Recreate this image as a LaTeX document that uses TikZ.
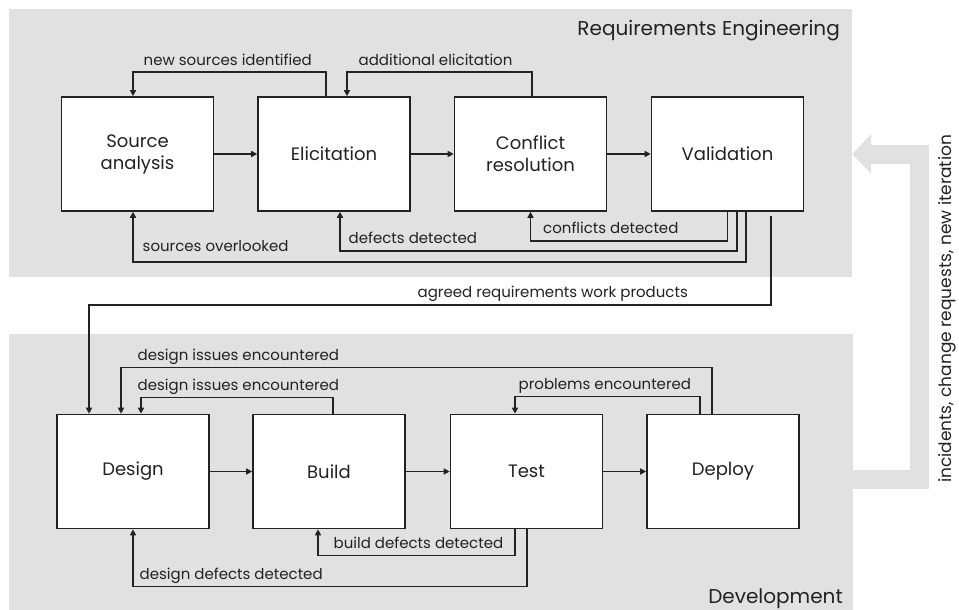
\documentclass[tikz,border=0pt]{standalone}
\usepackage{fontspec}
\setmainfont{Poppins}
\usetikzlibrary{arrows.meta}
\definecolor{panelgray}{HTML}{E1E1E1}
\definecolor{ink}{HTML}{222222}

\begin{document}
\begin{tikzpicture}[x=1pt,y=-1pt,
  panel/.style={fill=panelgray, inner sep=0pt, outer sep=0pt},
  stage/.style={draw=ink, fill=white, line width=1.6pt, minimum width=152pt, minimum height=114pt,
    align=center, font=\fontsize{18}{22}\selectfont, text=ink},
  flow/.style={draw=ink, line width=1.4pt, -{Triangle[length=6pt,width=6pt]}},
  lbl/.style={anchor=base west, font=\fontsize{15}{17}\selectfont, text=ink, inner sep=0pt, yshift=7pt},
  title/.style={anchor=base east, font=\fontsize{20}{22}\selectfont, text=ink, inner sep=0pt}]

\useasboundingbox (0,0) rectangle (959,610);

% panels
\node[panel, minimum width=843pt, minimum height=268pt] (re) at (430.5,143) {};
\node[panel, minimum width=844pt, minimum height=276pt] (dev) at (431,472) {};
\node[title] (retitle) at (840,36) {Requirements Engineering};
\node[title] (devtitle) at (843,603) {Development};

% stages
\node[stage] (src) at (137.5,154) {Source\\analysis};
\node[stage] (elic) at (334,154) {Elicitation};
\node[stage] (conf) at (530.5,154) {Conflict\\resolution};
\node[stage] (val) at (727.5,154) {Validation};

\node[stage] (design) at (133,471.5) {Design};
\node[stage] (build) at (329,471.5) {Build};
\node[stage] (test) at (526.5,471.5) {Test};
\node[stage] (deploy) at (723,471.5) {Deploy};

\draw[flow] (src) -- (elic);
\draw[flow] (elic) -- (conf);
\draw[flow] (conf) -- (val);
\draw[flow] (design) -- (build);
\draw[flow] (build) -- (test);
\draw[flow] (test) -- (deploy);

% loops in requirements engineering
\draw[flow] ([xshift=-8pt]elic.north) -- ++(0,-24) -| node[lbl, pos=.5, xshift=10pt]{new sources identified} ([xshift=-4.5pt]src.north);
\draw[flow] ([xshift=1.5pt]conf.north) -- ++(0,-24) -| node[lbl, pos=.5, xshift=11pt]{additional elicitation} ([xshift=13pt]elic.north);
\draw[flow] (val.south) -- ++(0,29) -| node[lbl, pos=.5, xshift=12pt]{conflicts detected} (conf.south);
\draw[flow] ([xshift=9.5pt]val.south) -- ++(0,39) -| node[lbl, pos=.5, xshift=8pt]{defects detected} ([xshift=6pt]elic.south);
\draw[flow] ([xshift=18.5pt]val.south) -- ++(0,50) -| node[lbl, pos=.5, xshift=9pt, yshift=3pt]{sources overlooked} ([xshift=-4.5pt]src.south);

\draw[flow] ([xshift=43.5pt,yshift=-4pt]val.south) -- ++(0,89) -| node[lbl, anchor=base, pos=.16]{agreed requirements work products} ([xshift=-44pt]design.north);

% loops in development
\draw[flow] ([xshift=-11pt]deploy.north) -- ++(0,-46) -| node[lbl, pos=.5, xshift=16pt]{design issues encountered} ([xshift=-12pt]design.north);
\draw[flow] ([xshift=4pt]build.north) -- ++(0,-16) -| node[lbl, pos=.5, xshift=-4pt]{design issues encountered} ([xshift=8pt]design.north);
\draw[flow] ([xshift=-23pt]deploy.north) -- ++(0,-17) -| node[lbl, pos=.5, xshift=3pt]{problems encountered} ([xshift=-11.5pt]test.north);
\draw[flow] ([xshift=-11.5pt]test.south) -- ++(0,26) -| node[lbl, pos=.5, xshift=15pt]{build defects detected} ([xshift=-11pt]build.south);
\draw[flow] ([xshift=0.5pt]test.south) -- ++(0,57) -| node[lbl, pos=.5, xshift=6pt]{design defects detected} (design.south);

% back to requirements
\draw[panelgray, line width=19pt, -{Triangle[length=19pt,width=38pt]}] (dev.east |- 0,479) -| (919.5,154) -- (re.east |- 0,154);
\node[rotate=90, font=\fontsize{17}{19}\selectfont, text=ink] (iter) at (947,309) {incidents, change requests, new iteration};

\end{tikzpicture}
\end{document}
